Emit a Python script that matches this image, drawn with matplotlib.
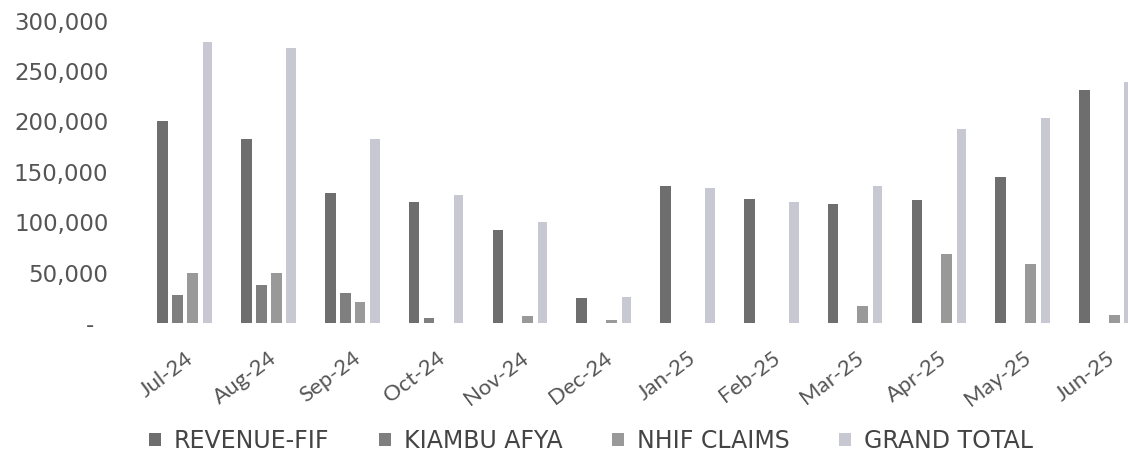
import matplotlib
matplotlib.use("Agg")
import matplotlib.pyplot as plt
import numpy as np
from matplotlib.ticker import FuncFormatter

months = ["Jul-24", "Aug-24", "Sep-24", "Oct-24", "Nov-24", "Dec-24",
          "Jan-25", "Feb-25", "Mar-25", "Apr-25", "May-25", "Jun-25"]
revenue_fif = [200000, 183000, 129000, 120500, 92500, 24500,
               135500, 123000, 118000, 122000, 144500, 231500]
kiambu_afya = [28000, 37500, 29500, 5000, 0, 0, 0, 0, 0, 0, 0, 0]
nhif_claims = [49500, 50000, 20500, 0, 7000, 3000, 0, 0, 17000, 68000, 58500, 7500]
grand_total = [279000, 272500, 183000, 127000, 100000, 26000,
               134000, 120500, 136000, 192000, 203500, 239500]

series = [("REVENUE-FIF", revenue_fif, "#6e6e6e", 0.128),
          ("KIAMBU AFYA", kiambu_afya, "#7f7f7f", 0.128),
          ("NHIF CLAIMS", nhif_claims, "#999999", 0.128),
          ("GRAND TOTAL", grand_total, "#c8c8d2", 0.11)]

fig = plt.figure(figsize=(11.28, 4.58), dpi=100)
fig.patch.set_facecolor("white")
ax = fig.add_axes([143.1 / 1128, (458 - 323) / 458, 1005.6 / 1128, 302.4 / 458])

x = np.arange(len(months))
step = 0.1774
for k, (name, vals, col, w) in enumerate(series):
    ax.bar(x + (k - 1.5) * step, vals, width=w, color=col, label=name, linewidth=0)

ax.set_xlim(-0.5, 11.5)
ax.set_ylim(0, 300000)
ax.set_yticks(np.arange(0, 300001, 50000))
ax.yaxis.set_major_formatter(FuncFormatter(lambda v, p: "-  " if v == 0 else f"{int(v):,}"))
for s in ax.spines.values():
    s.set_visible(False)
ax.tick_params(axis="y", length=0, pad=25, labelsize=16.5, labelcolor="#555555")
ax.tick_params(axis="x", length=0, pad=18)
ax.set_xticks(x)
ax.set_xticklabels(months, rotation=37, ha="right", va="top", rotation_mode="anchor",
                   fontsize=16, color="#555555", family="Lato")

handles, labels = ax.get_legend_handles_labels()
leg = fig.legend(handles, labels, loc="center", bbox_to_anchor=(591 / 1128, 17 / 458),
                 ncol=4, frameon=False, handlelength=0.5, handleheight=0.5,
                 handletextpad=0.55, columnspacing=2.1,
                 prop={"family": "DejaVu Sans", "size": 17})
for t in leg.get_texts():
    t.set_color("#444444")

fig.savefig("out.png", dpi=100, facecolor="white")
